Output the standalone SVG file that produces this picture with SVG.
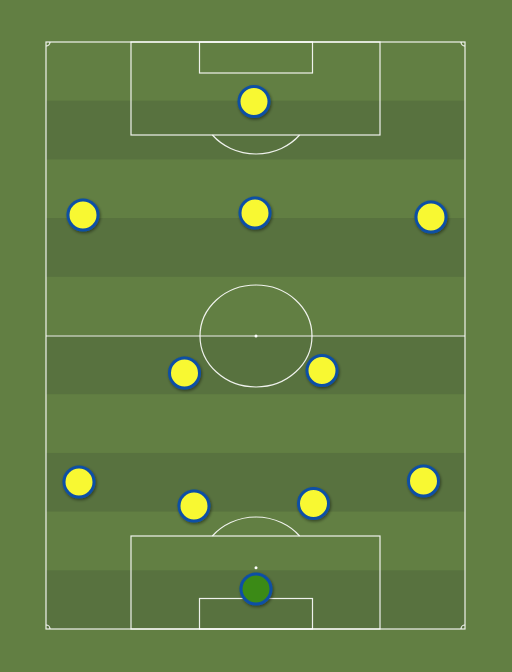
<svg xmlns="http://www.w3.org/2000/svg" width="512" height="672" viewBox="0 0 512 672">
<defs>
<style>
.line{fill:none;stroke:#ffffff;stroke-width:1.2;stroke-opacity:0.9}
.dark{fill:#58723f}
.player{fill:#f8f833;stroke:#0e4fa5;stroke-width:3;filter:url(#sh)}
.gk{fill:#3b8a17;stroke:#0e4fa5;stroke-width:3;filter:url(#sh)}
</style>
<filter id="sh" x="-50%" y="-50%" width="200%" height="200%">
<feDropShadow dx="1" dy="1.5" stdDeviation="1.5" flood-color="#000" flood-opacity="0.45"/>
</filter>
</defs>
<rect x="0" y="0" width="512" height="672" fill="#627f43"/>
<g id="stripes">
<rect class="dark" x="46" y="100.7" width="419" height="58.7"/>
<rect class="dark" x="46" y="218.1" width="419" height="58.7"/>
<rect class="dark" x="46" y="335.5" width="419" height="58.7"/>
<rect class="dark" x="46" y="452.9" width="419" height="58.7"/>
<rect class="dark" x="46" y="570.3" width="419" height="58.7"/>
</g>
<g id="pitch">
<rect class="line" x="46" y="42" width="419" height="587"/>
<line class="line" x1="46" y1="336" x2="465" y2="336"/>
<ellipse class="line" cx="256" cy="336" rx="56" ry="51"/>
<circle cx="256" cy="336" r="1.5" fill="#fff"/>
<rect class="line" x="131" y="42" width="249" height="93"/>
<rect class="line" x="199.5" y="42" width="113" height="31"/>
<path class="line" d="M 212.4 135 A 56 51 0 0 0 299.6 135"/>
<rect class="line" x="131" y="536" width="249" height="93"/>
<rect class="line" x="199.5" y="598.5" width="113" height="30.5"/>
<path class="line" d="M 212.4 536 A 56 51 0 0 1 299.6 536"/>
<circle cx="256" cy="567.7" r="1.5" fill="#fff"/>
<circle cx="256" cy="103.3" r="1.5" fill="#fff"/>
<path class="line" d="M 46 46 A 4 4 0 0 0 50 42"/>
<path class="line" d="M 461 42 A 4 4 0 0 0 465 46"/>
<path class="line" d="M 46 625 A 4 4 0 0 1 50 629"/>
<path class="line" d="M 461 629 A 4 4 0 0 1 465 625"/>
</g>
<g id="connectors"></g>
<g id="p1"><circle class="player" cx="254" cy="101.5" r="15"/></g>
<g id="p2"><circle class="player" cx="83" cy="215" r="15"/></g>
<g id="p3"><circle class="player" cx="255" cy="213" r="15"/></g>
<g id="p4"><circle class="player" cx="431" cy="217" r="15"/></g>
<g id="p5"><circle class="player" cx="184.5" cy="373" r="15"/></g>
<g id="p6"><circle class="player" cx="322" cy="370.5" r="15"/></g>
<g id="p7"><circle class="player" cx="79" cy="482" r="15"/></g>
<g id="p8"><circle class="player" cx="194" cy="506" r="15"/></g>
<g id="p9"><circle class="player" cx="313.5" cy="503.5" r="15"/></g>
<g id="p10"><circle class="player" cx="423.5" cy="481" r="15"/></g>
<g id="gk"><circle class="gk" cx="256" cy="589" r="15"/></g>
</svg>
